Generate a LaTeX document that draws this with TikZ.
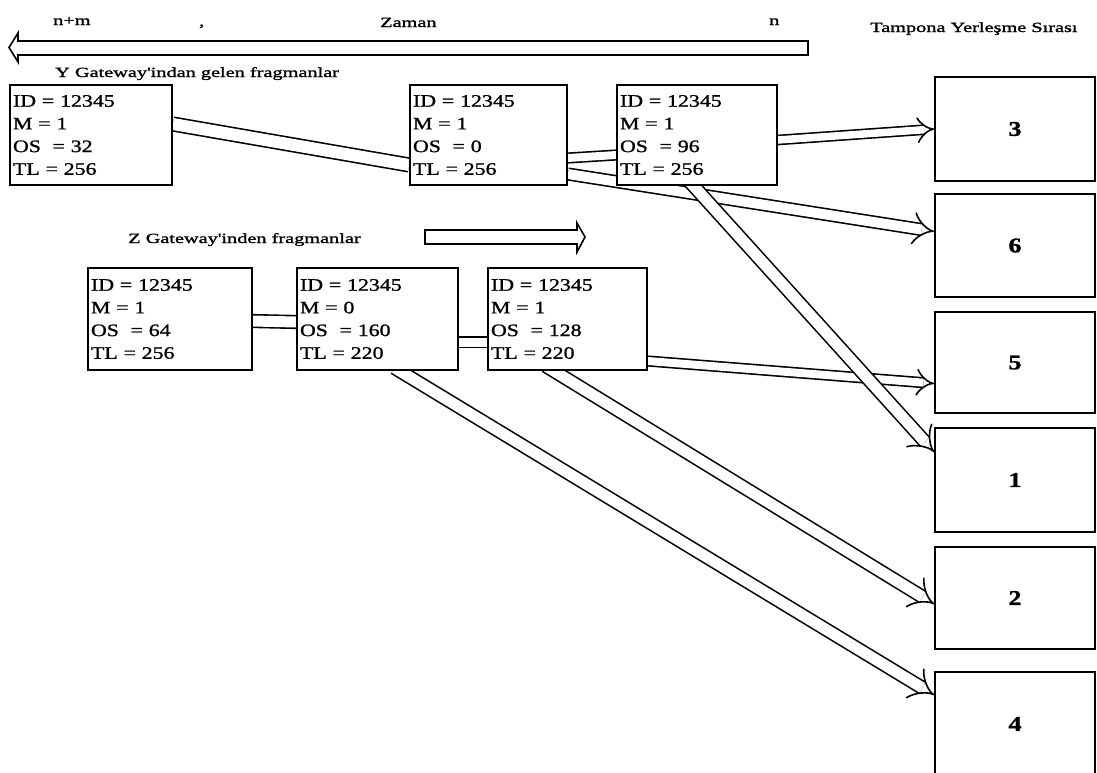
\documentclass[tikz,border=0pt]{standalone}
\usepackage{fontspec}
\setmainfont{Liberation Serif}[FakeStretch=1.25,FakeBold=1.2]
\newfontfamily\widefont{Liberation Serif}[FakeStretch=1.45,FakeBold=1.5]
\usetikzlibrary{arrows.meta}
\pgfdeclarelayer{bg}
\pgfsetlayers{bg,main}
\begin{document}
\begin{tikzpicture}[x=1pt,y=-1pt,
  frag/.style={draw, line width=1.7pt, minimum height=100pt, inner xsep=3pt, inner ysep=0pt,
    align=left, fill=white, font=\fontsize{17.5}{22.7}\selectfont},
  buf/.style={draw, line width=1.7pt, minimum width=160pt, fill=white,
    font=\fontsize{21}{24}\selectfont\bfseries},
  lab/.style={font=\widefont\fontsize{14}{16}\selectfont, inner sep=0pt, anchor=base west},
  conn/.style={draw, line width=1.6pt, double=white, double distance=9pt},
  arr/.style={conn, -{Implies}},
  hollow/.style={draw, line width=1.6pt, fill=white}
]
\useasboundingbox (0,0) rectangle (1097,772);
\clip (0,0) rectangle (1097,772);

% header labels
\node[lab] (nm) at (53,25) {n+m};
\node[lab] (comma) at (199,26) {,};
\node[lab] (zaman) at (380,27) {Zaman};
\node[lab] (n) at (769,25) {n};
\node[lab] (tampon) at (870,32) {Tampona Yerleşme Sırası};
\node[lab] (ylab) at (55,77) {Y Gateway'indan gelen fragmanlar};
\node[lab] (zlab) at (128,243) {Z Gateway'inden fragmanlar};

% time arrow (pointing left)
\draw[hollow] (808,41) -- (18,41) -- (18,33) .. controls (14,40) .. (9,47.5)
  .. controls (14,55) .. (18,62) -- (18,55) -- (808,55) -- cycle;
% Z direction arrow (pointing right)
\draw[hollow] (425,230) -- (577,230) -- (577,223) .. controls (581,230) .. (585,237)
  .. controls (581,244) .. (577,252) -- (577,244) -- (425,244) -- cycle;

% fragments from Y
\node[frag, text width=156pt] (Y1) at (91,135) {ID = 12345\\M = 1\\OS\ \ = 32\\TL = 256};
\node[frag, text width=151pt] (Y2) at (488.5,135) {ID = 12345\\M = 1\\OS\ \ = 0\\TL = 256};
\node[frag, text width=154pt] (Y3) at (697,135) {ID = 12345\\M = 1\\OS\ \ = 96\\TL = 256};
% fragments from Z
\node[frag, text width=158pt, minimum height=102pt] (Z1) at (170,319) {ID = 12345\\M = 1\\OS\ \ = 64\\TL = 256};
\node[frag, text width=155pt, minimum height=102pt] (Z2) at (377.5,319) {ID = 12345\\M = 0\\OS\ \ = 160\\TL = 220};
\node[frag, text width=153pt, minimum height=102pt] (Z3) at (567.5,319) {ID = 12345\\M = 1\\OS\ \ = 128\\TL = 220};

% buffer order boxes
\node[buf, minimum height=104pt] (B3) at (1015,129) {3};
\node[buf, minimum height=103pt] (B6) at (1015,245.5) {6};
\node[buf, minimum height=101pt] (B5) at (1015,362.5) {5};
\node[buf, minimum height=104pt] (B1) at (1015,480) {1};
\node[buf, minimum height=102pt] (B2) at (1015,598) {2};
\node[buf, minimum height=104pt] (B4) at (1015,724) {4};

\begin{pgfonlayer}{bg}
\draw[conn, double distance=12pt] ([yshift=11pt]Y1.east) -- ([yshift=-30pt]Y2.west);
\draw[conn, double distance=8pt] ([yshift=-23pt]Y2.east) -- ([yshift=-20pt]Y3.west);
\draw[arr, double distance=10pt] ([yshift=-39pt]Y2.east) -- ([yshift=14pt]B6.west);
\draw[arr, double distance=7.5pt] ([yshift=-5pt]Y3.east) -- (B3.west);
\draw[conn, double distance=11pt] ([yshift=-2pt]Z1.east) -- ([yshift=-3pt]Z2.west);
\draw[conn, double distance=9pt] ([yshift=-23pt]Z2.east) -- ([yshift=-23pt]Z3.west);
\draw[arr, double distance=8pt] ([yshift=-42pt]Z3.east) -- ([yshift=-21pt]B5.west);
\draw[arr, double distance=11pt] ([xshift=-22pt,yshift=5pt]Z3.south) -- ([yshift=-6pt]B2.west);
\draw[arr, double distance=11pt] ([xshift=17pt,yshift=3pt]Z2.south) -- ([yshift=29pt]B4.west);
\draw[arr, double distance=11pt] ([xshift=-8pt,yshift=5pt]Y3.south) -- ([yshift=28pt]B1.west);
\end{pgfonlayer}
\end{tikzpicture}
\end{document}
